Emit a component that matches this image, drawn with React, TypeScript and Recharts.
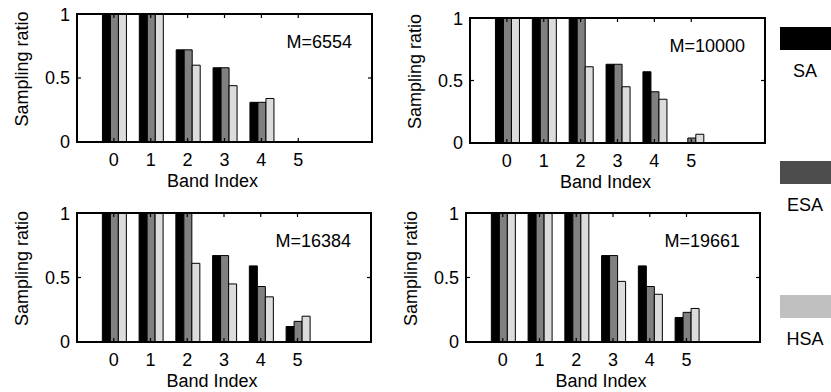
import React from 'react';
import { BarChart, Bar, XAxis, YAxis } from 'recharts';

// ---- data ----
const bandIndex = [0, 1, 2, 3, 4, 5];
const seriesNames = ['SA', 'ESA', 'HSA'];
const barColors = ['#000000', '#808080', '#dcdcdc'];
const legendColors = ['#000000', '#4d4d4d', '#c0c0c0'];
const yTicks = [0, 0.5, 1];
const panelTitles = ['M=6554', 'M=10000', 'M=16384', 'M=19661'];

const sa6554 = [1, 1, 0.72, 0.58, 0.31, 0];
const esa6554 = [1, 1, 0.72, 0.58, 0.31, 0];
const hsa6554 = [1, 1, 0.6, 0.44, 0.34, 0];

const sa10000 = [1, 1, 1, 0.63, 0.57, 0];
const esa10000 = [1, 1, 1, 0.63, 0.41, 0.04];
const hsa10000 = [1, 1, 0.61, 0.45, 0.35, 0.07];

const sa16384 = [1, 1, 1, 0.67, 0.59, 0.12];
const esa16384 = [1, 1, 1, 0.67, 0.43, 0.16];
const hsa16384 = [1, 1, 0.61, 0.45, 0.35, 0.2];

const sa19661 = [1, 1, 1, 0.67, 0.59, 0.19];
const esa19661 = [1, 1, 1, 0.67, 0.43, 0.23];
const hsa19661 = [1, 1, 1, 0.47, 0.37, 0.26];

const FONT = '"Liberation Sans", Arial, Helvetica, sans-serif';
const LINE = '#000000';

function buildRows(sa: number[], esa: number[], hsa: number[]) {
  return bandIndex.map((b, i) => ({ band: b, SA: sa[i], ESA: esa[i], HSA: hsa[i] }));
}

type PanelProps = {
  rows: any[];
  title: string;
  plotLeft: number;
  plotTop: number;
  plotWidth: number;
  plotHeight: number;
};

function Panel({ rows, title, plotLeft, plotTop, plotWidth, plotHeight }: PanelProps) {
  const yw = 77;
  const xh = 56;
  const mt = 10;
  const mr = 6;
  const L0 = plotLeft - yw;
  const T0 = plotTop - mt;
  const width = yw + plotWidth + mr;
  const height = mt + plotHeight + xh;
  const band = plotWidth / 8;
  const pTop = mt;
  const pBottom = pTop + plotHeight;
  const pLeft = yw;
  const pRight = yw + plotWidth;
  const padding = { left: band * 0.5, right: band * 1.5 };
  const tickStyle = { fontSize: 18, fill: '#000', fontFamily: FONT };
  const yMid = (pTop + pBottom) / 2 - 9;
  const tl = 4;

  return (
    <div style={{ position: 'absolute', left: L0, top: T0, width, height }}>
      <BarChart
        width={width}
        height={height}
        data={rows}
        margin={{ top: mt, right: mr, left: 0, bottom: 0 }}
        barCategoryGap="19%"
        barGap={0}
      >
        <XAxis
          dataKey="band"
          orientation="bottom"
          height={xh}
          padding={padding}
          ticks={bandIndex}
          tickSize={0}
          tickMargin={11}
          tick={tickStyle}
          axisLine={false}
          tickLine={false}
        />
        <YAxis
          type="number"
          domain={[0, 1]}
          ticks={yTicks}
          width={yw}
          tickSize={0}
          tickMargin={7}
          tick={tickStyle}
          axisLine={false}
          tickLine={false}
        />
        {seriesNames.map((name, i) => (
          <Bar
            key={name}
            dataKey={name}
            fill={barColors[i]}
            stroke={LINE}
            strokeWidth={1}
            isAnimationActive={false}
          />
        ))}
      </BarChart>
      <svg
        width={width}
        height={height}
        style={{ position: 'absolute', left: 0, top: 0, pointerEvents: 'none', overflow: 'visible' }}
      >
        <path
          d={`M${pLeft},${pTop} H${pRight} V${pBottom} H${pLeft} Z`}
          fill="none"
          stroke={LINE}
          strokeWidth={2}
        />
        {bandIndex.map((b, i) => {
          const x = pLeft + band * (i + 1);
          return (
            <g key={'xt' + b}>
              <path d={`M${x},${pBottom} V${pBottom - tl}`} stroke={LINE} strokeWidth={1.2} />
              <path d={`M${x},${pTop} V${pTop + tl}`} stroke={LINE} strokeWidth={1.2} />
            </g>
          );
        })}
        {yTicks.map((v) => {
          const y = pBottom - v * plotHeight;
          return (
            <g key={'yt' + v}>
              <path d={`M${pLeft},${y} H${pLeft + tl}`} stroke={LINE} strokeWidth={1.2} />
              <path d={`M${pRight},${y} H${pRight - tl}`} stroke={LINE} strokeWidth={1.2} />
            </g>
          );
        })}
        <text x={(pLeft + pRight) / 2 - 12} y={pBottom + 45} textAnchor="middle" fontSize={18} fontFamily={FONT} fill="#000">
          Band Index
        </text>
        <text x={pRight - 20} y={pTop + 34} textAnchor="end" fontSize={18} fontFamily={FONT} fill="#000">
          {title}
        </text>
        <text
          x={22}
          y={yMid}
          transform={`rotate(-90, 22, ${yMid})`}
          textAnchor="middle"
          dominantBaseline="central"
          fontSize={18}
          fontFamily={FONT}
          fill="#000"
        >
          Sampling ratio
        </text>
      </svg>
    </div>
  );
}

function Legend() {
  const top0 = 27;
  const step = 134;
  return (
    <svg width={60} height={392} style={{ position: 'absolute', left: 775, top: 0 }}>
      {seriesNames.map((name, i) => (
        <g key={name}>
          <rect x={5} y={top0 + i * step} width={51} height={23} fill={legendColors[i]} />
          <text x={30} y={top0 + i * step + 50} textAnchor="middle" fontSize={18} fontFamily={FONT} fill="#000">
            {name}
          </text>
        </g>
      ))}
    </svg>
  );
}

export default function App() {
  const rows1 = buildRows(sa6554, esa6554, hsa6554);
  const rows2 = buildRows(sa10000, esa10000, hsa10000);
  const rows3 = buildRows(sa16384, esa16384, hsa16384);
  const rows4 = buildRows(sa19661, esa19661, hsa19661);
  return (
    <div style={{ position: 'absolute', left: 0, top: 0, width: 831, height: 392, fontFamily: FONT, background: '#fff' }}>
      <Panel rows={rows1} title={panelTitles[0]} plotLeft={77} plotTop={14} plotWidth={295} plotHeight={128} />
      <Panel rows={rows2} title={panelTitles[1]} plotLeft={470} plotTop={18} plotWidth={295} plotHeight={125} />
      <Panel rows={rows3} title={panelTitles[2]} plotLeft={77} plotTop={213} plotWidth={294} plotHeight={129} />
      <Panel rows={rows4} title={panelTitles[3]} plotLeft={466} plotTop={213} plotWidth={294} plotHeight={129} />
      <Legend />
    </div>
  );
}
